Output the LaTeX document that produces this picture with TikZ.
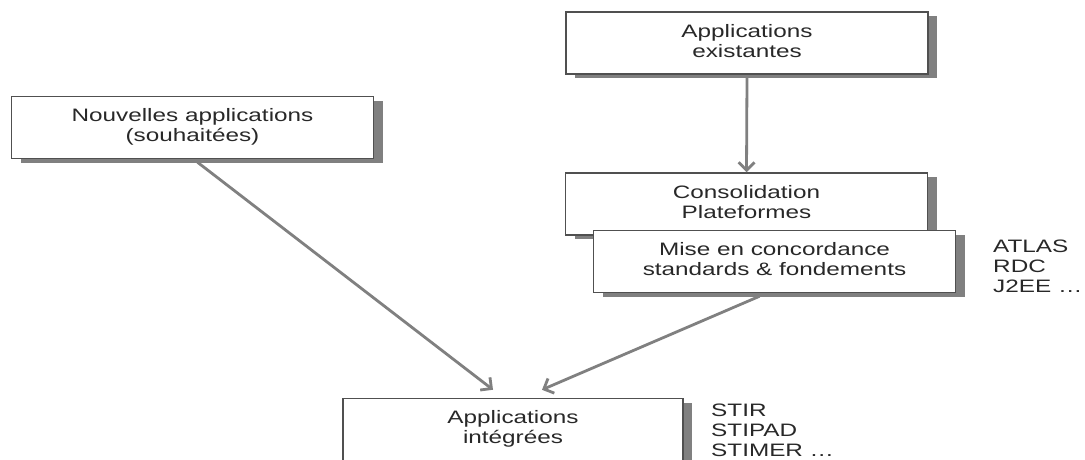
\documentclass[tikz,border=0pt]{standalone}
\usepackage{fontspec}
\setmainfont{Liberation Sans}
\usepackage{graphicx}
\usetikzlibrary{shadows,arrows.meta}

\definecolor{boxline}{RGB}{80,80,80}
\definecolor{shade}{RGB}{128,128,128}
\definecolor{arrowgray}{RGB}{128,128,128}
\definecolor{ink}{RGB}{40,40,40}

% wide text, centred or flush left
\newcommand{\widec}[1]{\scalebox{1.35}[1]{\begin{tabular}{@{}c@{}}#1\end{tabular}}}
\newcommand{\widel}[1]{\scalebox{1.35}[1]{\begin{tabular}{@{}l@{}}#1\end{tabular}}}

\begin{document}
\begin{tikzpicture}[x=1pt,y=-1pt,
  every node/.style={font=\fontsize{18}{20}\selectfont, text=ink},
  stage/.style={draw=boxline, line width=1.5pt, fill=white,
    minimum width=362pt, minimum height=62pt, inner sep=0pt,
    drop shadow={shadow xshift=9pt, shadow yshift=-4pt, fill=shade, opacity=1}},
  flow/.style={draw=arrowgray, line width=2.8pt,
    -{Straight Barb[length=8pt, width=16pt]}},
  sidelist/.style={anchor=west, inner sep=0pt}]

  \clip (0,0) rectangle (1085,459);
  \fill[white] (0,0) rectangle (1085,459);

  % boxes
  \node[stage] (nouv)  at (192.5,127.5) {\widec{Nouvelles applications\\(souhaitées)}};
  \node[stage] (exist) at (747,43)      {\widec{Applications\\existantes}};
  \node[stage] (cons)  at (746.5,204)   {\widec{Consolidation\\Plateformes}};
  \node[stage] (conc)  at (774.5,261.5) {\widec{Mise en concordance\\standards \& fondements}};
  \node[stage, minimum width=340pt] (integ) at (513,429.5) {\widec{Applications\\intégrées}};

  % side lists
  \node[sidelist] (atlas) at (993,268) {\widel{ATLAS\\RDC\\J2EE \dots}};
  \node[sidelist] (stir)  at (711,432) {\widel{STIR\\STIPAD\\STIMER \dots}};

  % connectors
  \draw[flow] ([yshift=-3pt]exist.south) -- (cons.north);
  \draw[flow] ([xshift=5pt,yshift=-3pt]nouv.south) -- ([xshift=-20pt,yshift=8pt]integ.north);
  \draw[flow] ([xshift=-15pt,yshift=-3pt]conc.south) -- ([xshift=29pt,yshift=8pt]integ.north);
\end{tikzpicture}
\end{document}
